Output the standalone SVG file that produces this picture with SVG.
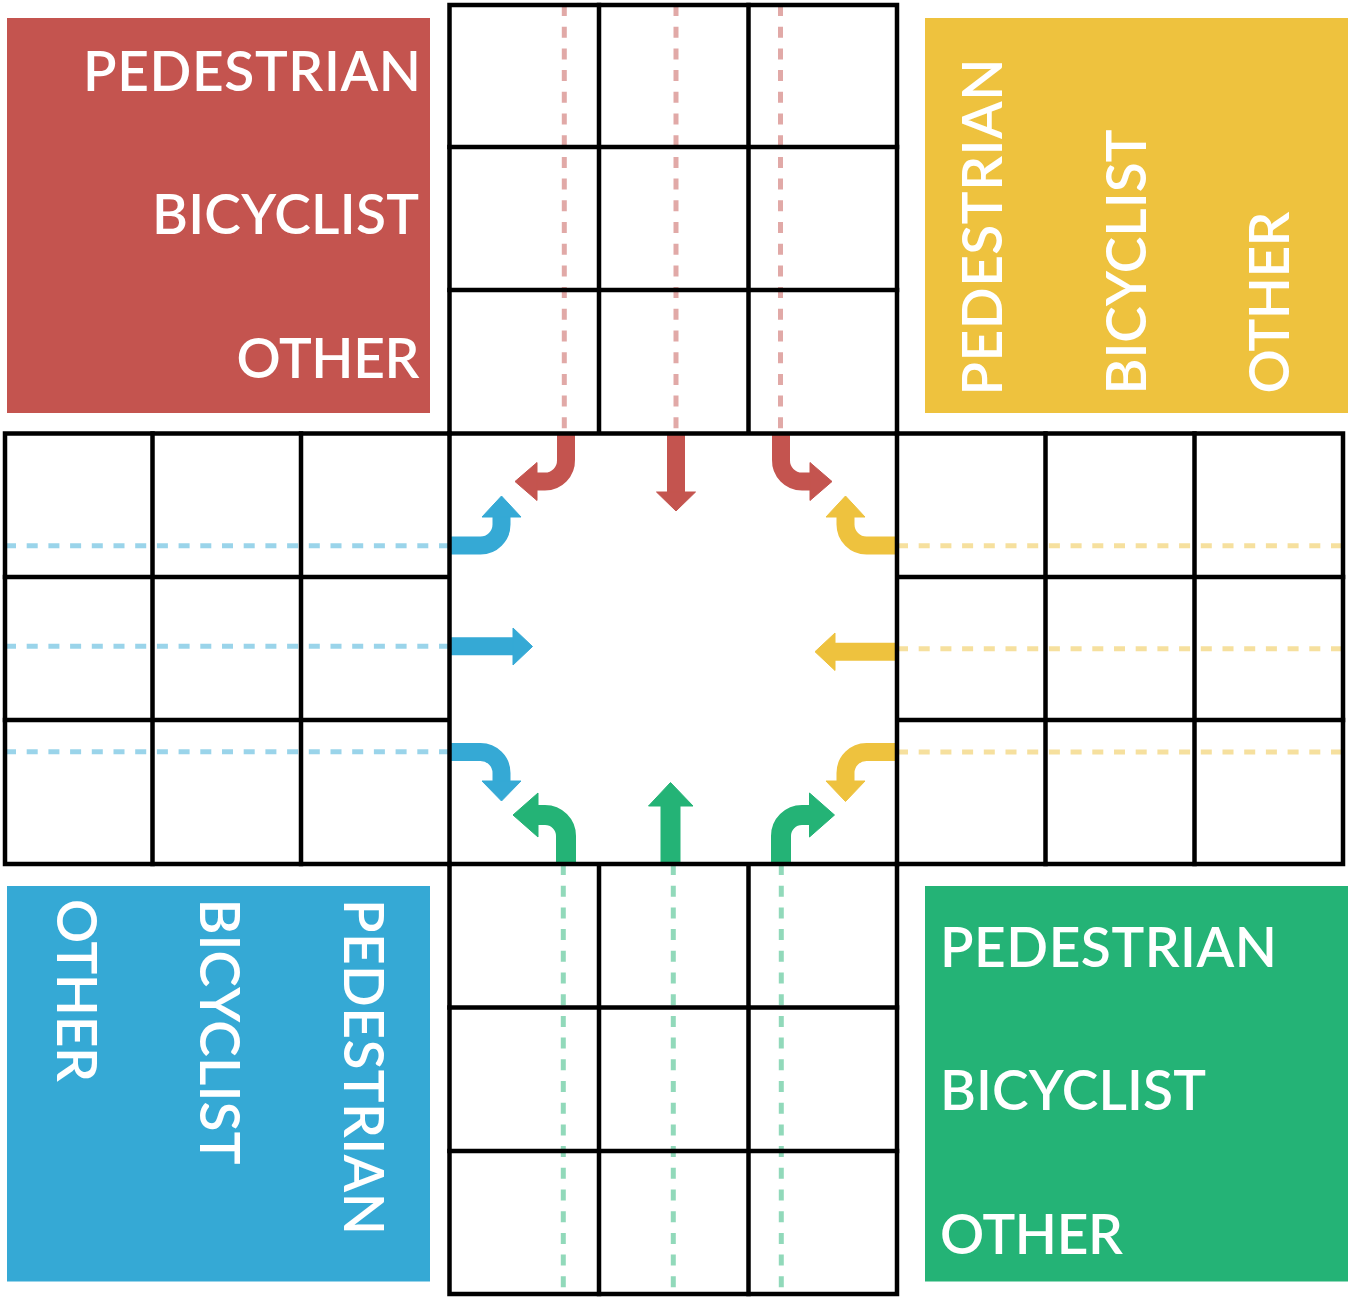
<svg xmlns="http://www.w3.org/2000/svg" width="1351" height="1299" viewBox="0 0 1351 1299">
<style>
.lbl{font-family:Lato,"Liberation Sans",sans-serif;font-weight:600;font-size:55px;fill:#fff}
.grid{fill:none;stroke:#000;stroke-width:4.5;stroke-linecap:square}
.dash{fill:none;stroke-width:5;stroke-dasharray:11 10.7;opacity:0.5}
.stem{fill:none;stroke-width:18;stroke-linecap:butt}
.g .stem{stroke-width:20}
.r{stroke:#c4544f;fill:#c4544f}
.y{stroke:#eec23e;fill:#eec23e}
.b{stroke:#35a9d5;fill:#35a9d5}
.g{stroke:#24b376;fill:#24b376}
</style>
<rect width="1351" height="1299" fill="#fff"/>

<g id="legend-red">
<rect x="7" y="18" width="423" height="395" fill="#c4544f"/>
<text class="lbl" x="83" y="90.7" textLength="338">PEDESTRIAN</text>
<text class="lbl" x="152" y="234" textLength="267">BICYCLIST</text>
<text class="lbl" x="236.5" y="378.3" textLength="183">OTHER</text>
</g>
<g id="legend-yellow">
<rect x="925" y="18" width="423" height="395" fill="#eec23e"/>
<text class="lbl" transform="translate(1002.3,395.5) rotate(-90)" textLength="337">PEDESTRIAN</text>
<text class="lbl" transform="translate(1145.7,394.5) rotate(-90)" textLength="265">BICYCLIST</text>
<text class="lbl" transform="translate(1289,393.5) rotate(-90)" textLength="182">OTHER</text>
</g>
<g id="legend-blue">
<rect x="7" y="886" width="423" height="395.5" fill="#35a9d5"/>
<text class="lbl" transform="translate(56.7,899) rotate(90)" textLength="183">OTHER</text>
<text class="lbl" transform="translate(200,898.5) rotate(90)" textLength="266">BICYCLIST</text>
<text class="lbl" transform="translate(344,899) rotate(90)" textLength="336">PEDESTRIAN</text>
</g>
<g id="legend-green">
<rect x="925" y="886" width="423" height="395.5" fill="#24b376"/>
<text class="lbl" x="940" y="967.3" textLength="337">PEDESTRIAN</text>
<text class="lbl" x="940" y="1110" textLength="266">BICYCLIST</text>
<text class="lbl" x="940" y="1254" textLength="183">OTHER</text>
</g>

<g id="lanes">
<g class="r">
<line class="dash" x1="564.3" y1="5" x2="564.3" y2="433"/>
<line class="dash" x1="676" y1="5" x2="676" y2="433"/>
<line class="dash" x1="780.5" y1="5" x2="780.5" y2="433"/>
</g>
<g class="b">
<line class="dash" x1="5" y1="545.7" x2="449" y2="545.7"/>
<line class="dash" x1="5" y1="646.3" x2="449" y2="646.3"/>
<line class="dash" x1="5" y1="751.7" x2="449" y2="751.7"/>
</g>
<g class="y">
<line class="dash" x1="897" y1="545.7" x2="1343" y2="545.7"/>
<line class="dash" x1="897" y1="648.7" x2="1343" y2="648.7"/>
<line class="dash" x1="897" y1="752" x2="1343" y2="752"/>
</g>
<g class="g">
<line class="dash" x1="563.3" y1="864" x2="563.3" y2="1294"/>
<line class="dash" x1="673.3" y1="864" x2="673.3" y2="1294"/>
<line class="dash" x1="781.3" y1="864" x2="781.3" y2="1294"/>
</g>
</g>

<g id="connectors">
<g class="r">
<path class="stem" d="M566,433 V460 A21,21 0 0 1 545,481.5 H536"/>
<polygon points="537,462.5 537,500.5 515,481.5"/>
<path class="stem" d="M676,433 V493"/>
<polygon points="656.5,492 695.5,492 676,511"/>
<path class="stem" d="M781,433 V460 A21,21 0 0 0 802,481.5 H811"/>
<polygon points="810,462.5 810,500.5 832,481.5"/>
</g>
<g class="y">
<path class="stem" d="M897,545.5 H866.5 A21,21 0 0 1 845.5,524.5 V516"/>
<polygon points="826,517 865,517 845.5,496"/>
<path class="stem" d="M897,651.7 H834"/>
<polygon points="835,633 835,670.5 815,651.7"/>
<path class="stem" d="M897,752 H866.5 A21,21 0 0 0 845.5,773 V782"/>
<polygon points="826,781 865,781 845.5,801.5"/>
</g>
<g class="b">
<path class="stem" d="M449,545.5 H480.5 A21,21 0 0 0 501.5,524.5 V516"/>
<polygon points="482,517 521,517 501.5,496"/>
<path class="stem" d="M449,646.3 H514"/>
<polygon points="513,628 513,665 532.5,646.5"/>
<path class="stem" d="M449,752 H480.5 A21,21 0 0 1 501.5,773 V782"/>
<polygon points="482,781 521,781 501.5,801"/>
</g>
<g class="g">
<path class="stem" d="M566,864 V836 A21,21 0 0 0 545,815 H537"/>
<polygon points="538,793 538,837 513,815"/>
<path class="stem" d="M670.5,864 V805"/>
<polygon points="648.5,806 693,806 670.5,782.5"/>
<path class="stem" d="M781,864 V836 A21,21 0 0 1 802,815 H810"/>
<polygon points="809.5,793 809.5,837 834.5,815"/>
</g>
</g>

<g id="grid">
<path class="grid" d="M449.5,5 H897 V433.5 H1343 V864 H897 V1294 H449.5 V864 H5 V433.5 H449.5 Z"/>
<path class="grid" d="M599,5 V433.5 M748.5,5 V433.5 M449.5,147 H897 M449.5,290 H897 M449.5,433.5 H897"/>
<path class="grid" d="M152.5,433.5 V864 M301,433.5 V864 M5,577 H449.5 M5,720 H449.5 M449.5,433.5 V864"/>
<path class="grid" d="M1045.5,433.5 V864 M1194.5,433.5 V864 M897,577 H1343 M897,720 H1343 M897,433.5 V864"/>
<path class="grid" d="M599,864 V1294 M748.5,864 V1294 M449.5,1007.5 H897 M449.5,1151 H897 M449.5,864 H897"/>
</g>
</svg>
